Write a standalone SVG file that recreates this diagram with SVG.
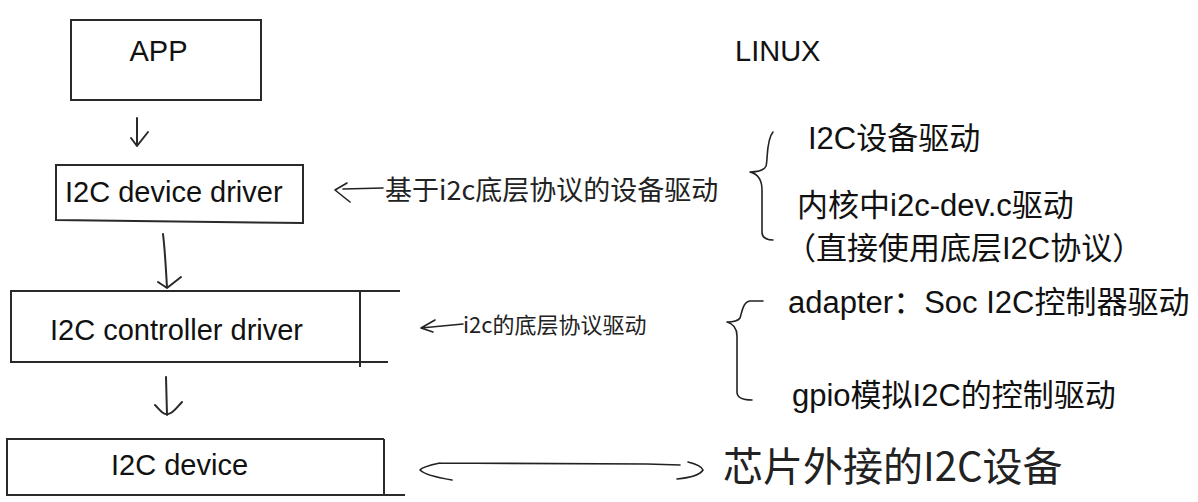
<svg xmlns="http://www.w3.org/2000/svg" width="1198" height="502" viewBox="0 0 1198 502">
<style>
.box{fill:none;stroke:#2a2a2a;stroke-width:2}
.ln{fill:none;stroke:#2a2a2a;stroke-width:2;stroke-linecap:round;stroke-linejoin:round}
.hw{fill:none;stroke:#222;stroke-width:1.6;stroke-linecap:round;stroke-linejoin:round}
.lbl{font-family:"Liberation Sans","Noto Sans CJK SC",sans-serif;font-size:29px;fill:#111}
.note{font-family:"Liberation Sans","Noto Sans CJK SC",sans-serif;font-size:31px;fill:#111}
.hand{font-family:"Noto Sans CJK SC",sans-serif;fill:#222}
</style>
<rect width="1198" height="502" fill="#fff"/>
<g id="app">
<rect class="box" x="71" y="20" width="190" height="80"/>
<text class="lbl" x="158.5" y="61" text-anchor="middle">APP</text>
</g>
<g id="linux">
<text class="lbl" x="735" y="61">LINUX</text>
</g>
<g id="device-driver">
<path class="box" d="M56,165 L303,165 L303,223 L56,220 Z"/>
<text class="lbl" x="65" y="202">I2C device driver</text>
</g>
<g id="controller-driver">
<path class="box" d="M400,291 L11,291 L11,362 L388,362 M360,291 L360,367"/>
<text class="lbl" x="50" y="340">I2C controller driver</text>
</g>
<g id="i2c-device">
<path class="box" d="M384,439 L7,439 L7,495 L405,495 M384,439 L384,495"/>
<text class="lbl" x="111" y="475">I2C device</text>
</g>
<g id="device-driver-notes">
<path class="hw" d="M773,132 C766,140 768,160 766,166 C764,171 757,172 750,172 C758,174 762,180 762,190 L762,232 C762,238 766,240 773,240"/>
<text class="note" x="808" y="149">I2C设备驱动</text>
<text class="note" x="797" y="216">内核中i2c-dev.c驱动</text>
<text class="note" x="785" y="259">（直接使用底层I2C协议）</text>
</g>
<g id="controller-notes">
<path class="hw" d="M763,301 L750,301 C743,302 742,312 740,318 C738,321 733,322 727,322 C734,324 737,328 737,336 L737,392 C737,398 742,400 752,400"/>
<text class="note" x="788" y="313">adapter：Soc I2C控制器驱动</text>
<text class="note" x="792" y="406">gpio模拟I2C的控制驱动</text>
</g>
<g id="hand-notes">
<text class="hand" x="385" y="200" font-size="27">基于i2c底层协议的设备驱动</text>
<text class="hand" x="463" y="333" font-size="22">i2c的底层协议驱动</text>
<text class="hand" x="723" y="481" font-size="40">芯片外接的I2C设备</text>
</g>
<g id="connectors">
<path class="ln" d="M137,118 L137,146 M131,138 L137,146 L148,132"/>
<path class="ln" d="M163,234 C165,250 166,270 167,288 M158,282 L167,288 L181,277"/>
<path class="ln" d="M166,377 L167,415 M155,405 C160,410 163,415 168,414 C173,414 178,406 182,402"/>
<path class="hw" d="M383,188 L343,189 M347,183 L335,190 L350,202"/>
<path class="hw" d="M463,324 L421,328 M435,320 L421,328 L433,332"/>
<path class="hw" d="M440,463 L647,464 L680,465 M440,463 C430,465 422,467 420,470 C425,475 440,478 452,480 M688,462 C696,464 702,467 703,470 C700,475 688,478 677,479"/>
</g>
</svg>
